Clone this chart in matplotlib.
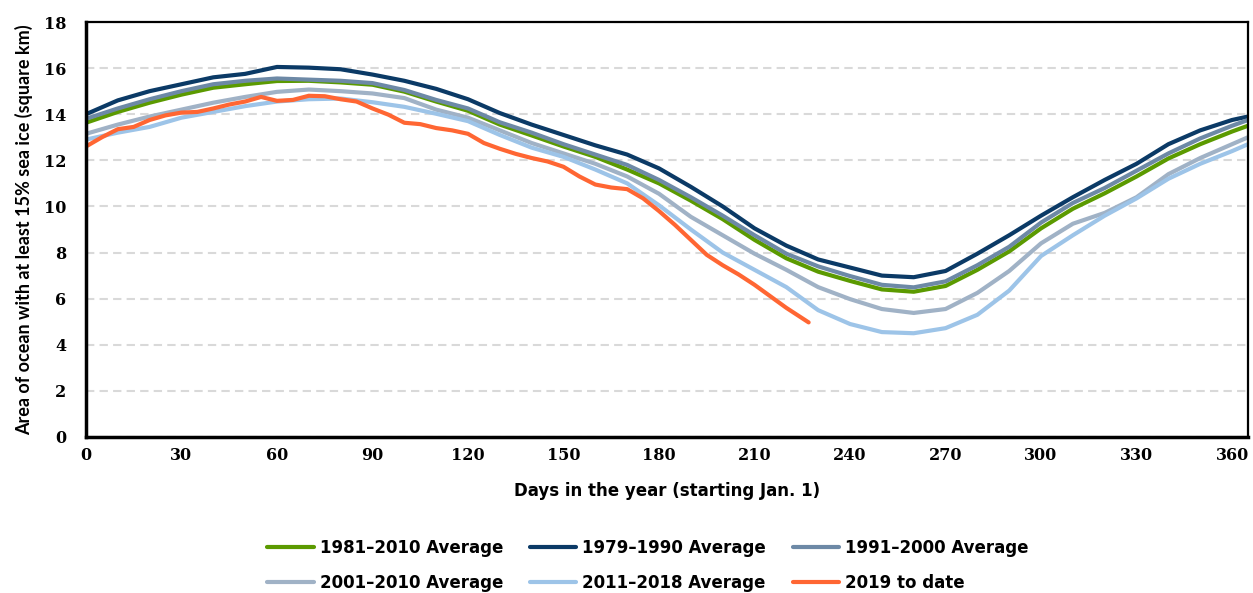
import matplotlib
matplotlib.use('Agg')
import matplotlib.pyplot as plt
from matplotlib.font_manager import FontProperties

# ---- data ----
days = [0, 10, 20, 30, 40, 50, 60, 70, 80, 90, 100, 110, 120, 130, 140, 150, 160, 170, 180,
        190, 200, 210, 220, 230, 240, 250, 260, 270, 280, 290, 300, 310, 320, 330, 340, 350,
        360, 365]

avg_1981_2010 = [13.63, 14.1, 14.5, 14.85, 15.15, 15.3, 15.44, 15.45, 15.38, 15.28, 14.98,
                 14.55, 14.15, 13.55, 13.08, 12.6, 12.15, 11.6, 11.0, 10.25, 9.45, 8.55, 7.75,
                 7.17, 6.77, 6.4, 6.3, 6.55, 7.25, 8.05, 9.05, 9.9, 10.57, 11.3, 12.08, 12.7,
                 13.25, 13.5]

avg_1979_1990 = [14.0, 14.6, 15.0, 15.3, 15.6, 15.75, 16.05, 16.02, 15.95, 15.72, 15.45, 15.1,
                 14.65, 14.05, 13.55, 13.1, 12.65, 12.25, 11.65, 10.85, 10.0, 9.05, 8.3, 7.7,
                 7.35, 7.0, 6.93, 7.2, 7.95, 8.75, 9.6, 10.4, 11.15, 11.85, 12.7, 13.3, 13.75,
                 13.9]

avg_1991_2000 = [13.8, 14.25, 14.65, 15.0, 15.3, 15.45, 15.55, 15.5, 15.45, 15.35, 15.05, 14.62,
                 14.25, 13.65, 13.2, 12.7, 12.25, 11.8, 11.15, 10.4, 9.6, 8.75, 7.95, 7.4, 6.98,
                 6.6, 6.49, 6.75, 7.45, 8.25, 9.3, 10.15, 10.8, 11.55, 12.3, 12.95, 13.5, 13.75]

avg_2001_2010 = [13.15, 13.55, 13.9, 14.2, 14.5, 14.75, 14.97, 15.07, 15.0, 14.9, 14.7, 14.2,
                 13.85, 13.3, 12.75, 12.3, 11.85, 11.3, 10.55, 9.55, 8.75, 7.95, 7.25, 6.5,
                 5.98, 5.55, 5.38, 5.55, 6.25, 7.2, 8.4, 9.25, 9.72, 10.4, 11.4, 12.1, 12.7,
                 13.0]

avg_2011_2018 = [12.9, 13.2, 13.45, 13.85, 14.1, 14.35, 14.55, 14.65, 14.68, 14.52, 14.32,
                 14.02, 13.7, 13.1, 12.55, 12.15, 11.6, 11.0, 10.05, 9.0, 8.0, 7.25, 6.5, 5.5,
                 4.9, 4.55, 4.5, 4.72, 5.3, 6.35, 7.85, 8.75, 9.6, 10.35, 11.2, 11.85, 12.4,
                 12.7]

days_2019 = [0, 5, 10, 15, 20, 25, 30, 35, 40, 45, 50, 55, 60, 65, 70, 75, 80, 85, 90, 95, 100,
             105, 110, 115, 120, 125, 130, 135, 140, 145, 150, 155, 160, 165, 170, 175, 180,
             185, 190, 195, 200, 205, 210, 215, 220, 225, 227]
ice_2019 = [12.6, 13.0, 13.35, 13.45, 13.75, 13.95, 14.07, 14.1, 14.25, 14.42, 14.55, 14.75,
            14.58, 14.62, 14.8, 14.78, 14.65, 14.55, 14.25, 13.98, 13.63, 13.57, 13.4, 13.3,
            13.15, 12.75, 12.5, 12.28, 12.1, 11.95, 11.72, 11.3, 10.95, 10.82, 10.75, 10.35,
            9.8, 9.2, 8.55, 7.9, 7.45, 7.05, 6.6, 6.1, 5.6, 5.15, 4.97]

x_ticks = [0, 30, 60, 90, 120, 150, 180, 210, 240, 270, 300, 330, 360]
y_ticks = [0, 2, 4, 6, 8, 10, 12, 14, 16, 18]

labels = ['1981\u20132010 Average', '1979\u20131990 Average', '1991\u20132000 Average',
          '2001\u20132010 Average', '2011\u20132018 Average', '2019 to date']
colors = ['#5B9A00', '#0B3A66', '#6D89A6', '#A0B2C6', '#9DC4E8', '#FF6633']

# ---- figure ----
fig = plt.figure(figsize=(12.53, 5.93), dpi=100)
ax = fig.add_axes([0.0686, 0.2631, 0.9274, 0.6998])

series = [avg_1981_2010, avg_1979_1990, avg_1991_2000, avg_2001_2010, avg_2011_2018]
handles = []
for vals, lab, col in zip(series, labels[:5], colors[:5]):
    h, = ax.plot(days, vals, color=col, lw=3.0, label=lab, solid_capstyle='round',
                 solid_joinstyle='round')
    handles.append(h)
h, = ax.plot(days_2019, ice_2019, color=colors[5], lw=3.0, label=labels[5],
             solid_capstyle='round', solid_joinstyle='round')
handles.append(h)

ax.set_xlim(0, 365)
ax.set_ylim(0, 18)
ax.set_xticks(x_ticks)
ax.set_yticks(y_ticks)

tick_font = FontProperties(family='DejaVu Serif', weight='bold', size=11.5)
for t in ax.get_xticklabels() + ax.get_yticklabels():
    t.set_fontproperties(tick_font)
ax.tick_params(axis='both', length=0)
ax.tick_params(axis='y', pad=14)
ax.tick_params(axis='x', pad=7)

ax.yaxis.grid(True, color='#D9D9D9', linestyle=(0, (4, 2.5)), linewidth=1.5)
ax.set_axisbelow(True)

for side in ['left', 'bottom']:
    ax.spines[side].set_linewidth(2.5)
    ax.spines[side].set_color('black')
for side in ['top', 'right']:
    ax.spines[side].set_linewidth(1.6)
    ax.spines[side].set_color('black')

ax.set_ylabel('Area of ocean with at least 15% sea ice (square km)',
              fontfamily='Lato', fontweight='bold', fontsize=13, labelpad=8)
ax.set_xlabel('Days in the year (starting Jan. 1)',
              fontfamily='DejaVu Sans', fontweight='bold', fontsize=12, labelpad=13)

order = [0, 3, 1, 4, 2, 5]
leg = fig.legend([handles[i] for i in order], [labels[i] for i in order],
                 loc='upper center', bbox_to_anchor=(0.517, 0.117), ncol=3, frameon=False,
                 handlelength=2.8, handletextpad=0.35, columnspacing=1.6, labelspacing=1.05,
                 prop=FontProperties(family='DejaVu Sans', weight='bold', size=12))

fig.savefig('out.png', dpi=100)
